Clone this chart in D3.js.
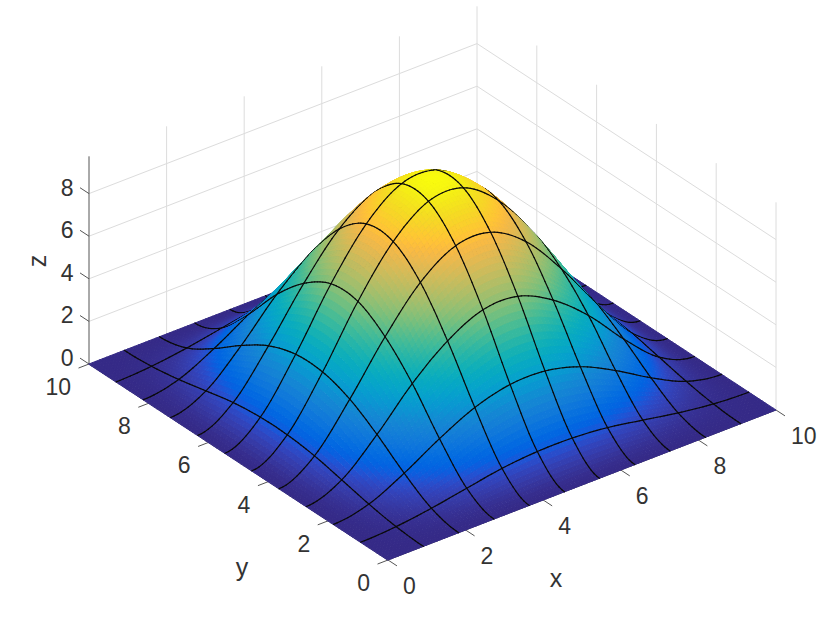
<!DOCTYPE html>
<html>
<head>
<meta charset="utf-8">
<script src="https://d3js.org/d3.v7.min.js"></script>
<style>
  html, body { margin: 0; padding: 0; background: #fff; }
  svg { display: block; }
  text { font-family: "Liberation Sans", Arial, sans-serif; fill: #333; }
</style>
</head>
<body>
<svg width="830" height="626"></svg>
<script>
var xTicks = [0, 2, 4, 6, 8, 10];
var yTicks = [0, 2, 4, 6, 8, 10];
var zTicks = [0, 2, 4, 6, 8];
var zTop = 9.75;

// mesh positions, same for x and y
var meshPos = [0, 0.91, 1.82, 2.73, 3.64, 4.55, 5.45, 6.36, 7.27, 8.18, 9.09, 10];

// heights
var zRows = [
  [0, 0,    0,    0,    0,    0,    0,    0,    0,    0,    0,    0],
  [0, 0.09, 0.31, 0.61, 0.90, 1.05, 1.05, 0.90, 0.61, 0.31, 0.09, 0],
  [0, 0.31, 1.12, 2.10, 2.92, 3.36, 3.36, 2.92, 2.10, 1.12, 0.31, 0],
  [0, 0.61, 2.10, 3.85, 5.21, 6.03, 6.03, 5.21, 3.85, 2.10, 0.61, 0],
  [0, 0.90, 2.92, 5.21, 7.12, 8.20, 8.20, 7.12, 5.21, 2.92, 0.90, 0],
  [0, 1.05, 3.36, 6.03, 8.20, 9.45, 9.45, 8.20, 6.03, 3.36, 1.05, 0],
  [0, 1.05, 3.36, 6.03, 8.20, 9.45, 9.45, 8.20, 6.03, 3.36, 1.05, 0],
  [0, 0.90, 2.92, 5.21, 7.12, 8.20, 8.20, 7.12, 5.21, 2.92, 0.90, 0],
  [0, 0.61, 2.10, 3.85, 5.21, 6.03, 6.03, 5.21, 3.85, 2.10, 0.61, 0],
  [0, 0.31, 1.12, 2.10, 2.92, 3.36, 3.36, 2.92, 2.10, 1.12, 0.31, 0],
  [0, 0.09, 0.31, 0.61, 0.90, 1.05, 1.05, 0.90, 0.61, 0.31, 0.09, 0],
  [0, 0,    0,    0,    0,    0,    0,    0,    0,    0,    0,    0]
];

// parula, 64 levels
var parula = [
  "#352a87","#363093","#3637a0","#353dad","#3243ba","#2c4ac7","#2053d4","#0f5cdd",
  "#0363e1","#0268e1","#046de0","#0871de","#0d75dc","#1079da","#127dd8","#1481d6",
  "#1485d4","#1389d3","#108ed2","#0c93d2","#0998d1","#079ccf","#06a0cd","#06a4ca",
  "#06a7c6","#07a9c2","#0aacbe","#0fafb9","#15b1b4","#1db3af","#25b5a9","#2eb7a4",
  "#38b99e","#42bb98","#4dbc92","#59bd8c","#65be86","#71bf80","#7cbf7b","#87bf77",
  "#92bf73","#9bbf6f","#a5be6b","#aebe67","#b7bd64","#c0bc60","#c8bc5d","#d1bb59",
  "#d9ba56","#e1b952","#e9b94e","#f1b94a","#f8ba44","#fdbe3d","#ffc337","#fec832",
  "#fccd2e","#f9d329","#f7d825","#f5de21","#f5e41d","#f5eb18","#f6f313","#f9fb0e"
];

var svg = d3.select("svg");

// oblique projection of the box, one scale per screen contribution
var xToSx = d3.scaleLinear().domain([0, 10]).range([388, 776]),
    yToSx = d3.scaleLinear().domain([0, 10]).range([0, -299]),
    xToSy = d3.scaleLinear().domain([0, 10]).range([560, 410]),
    yToSy = d3.scaleLinear().domain([0, 10]).range([0, -196]),
    zToSy = d3.scaleLinear().domain([0, 10]).range([0, -213]);

function project(x, y, z) {
  return [xToSx(x) + yToSx(y), xToSy(x) + yToSy(y) + zToSy(z)];
}

var color = d3.scaleLinear()
  .domain(parula.map(function(c, i) { return i * zTop / (parula.length - 1); }))
  .range(parula)
  .clamp(true);
var meshScale = d3.scaleLinear().domain(d3.range(meshPos.length)).range(meshPos);

// smooth shading between the mesh values (flat at the rim)
function at(i, j) {
  var n = meshPos.length - 1;
  i = i < 0 ? -i : (i > n ? 2 * n - i : i);
  j = j < 0 ? -j : (j > n ? 2 * n - j : j);
  return zRows[j][i];
}
function weights(t) {
  return [
    0.5 * (-t + 2 * t * t - t * t * t),
    0.5 * (2 - 5 * t * t + 3 * t * t * t),
    0.5 * (t + 4 * t * t - 3 * t * t * t),
    0.5 * (-t * t + t * t * t)
  ];
}
function height(u, v) {
  var n = meshPos.length - 1;
  var i = Math.min(Math.floor(u), n - 1),
      j = Math.min(Math.floor(v), n - 1);
  var wu = weights(u - i), wv = weights(v - j), z = 0;
  for (var b = 0; b < 4; b++) {
    for (var a = 0; a < 4; a++) {
      z += wu[a] * wv[b] * at(i + a - 1, j + b - 1);
    }
  }
  return Math.max(z, 0);
}
function point(u, v) {
  return project(meshScale(u), meshScale(v), height(u, v));
}

// walls
var wallGrid = svg.append("g")
  .attr("fill", "none")
  .attr("stroke", "#dcdcdc")
  .attr("stroke-width", 1);

function wallLine(a, b) {
  wallGrid.append("line")
    .attr("x1", a[0]).attr("y1", a[1])
    .attr("x2", b[0]).attr("y2", b[1]);
}
zTicks.forEach(function(z) {
  wallLine(project(0, 10, z), project(10, 10, z));
  wallLine(project(10, 10, z), project(10, 0, z));
});
xTicks.slice(1).forEach(function(x) {
  wallLine(project(x, 10, 0), project(x, 10, zTop));
});
yTicks.slice(0, -1).forEach(function(y) {
  wallLine(project(10, y, 0), project(10, y, zTop));
});

// axes
var axes = svg.append("g")
  .attr("fill", "none")
  .attr("stroke", "#555")
  .attr("stroke-width", 1);

function axisLine(a, b) {
  axes.append("line")
    .attr("x1", a[0]).attr("y1", a[1])
    .attr("x2", b[0]).attr("y2", b[1]);
}
axisLine(project(0, 10, 0), project(0, 10, zTop));
axisLine(project(0, 0, 0), project(10, 0, 0));
axisLine(project(0, 0, 0), project(0, 10, 0));

xTicks.forEach(function(x) {
  axisLine(project(x, 0, 0), project(x, -0.3, 0));
});
yTicks.forEach(function(y) {
  axisLine(project(0, y, 0), project(-0.27, y, 0));
});
zTicks.forEach(function(z) {
  axisLine(project(0, 10, z), project(0, 10.3, z));
});

// surface, painted from the back corner to the front
var sub = 10,
    cells = (meshPos.length - 1) * sub,
    items = [];

for (var b = 0; b < cells; b++) {
  for (var a = 0; a < cells; a++) {
    items.push({key: a + b, kind: "cell", a: a, b: b});
  }
}
for (var m = 1; m < meshPos.length - 1; m++) {
  for (var s = 0; s < cells; s++) {
    items.push({key: s + m * sub - 2.5, kind: "lineX", a: s, b: m * sub});
    items.push({key: s + m * sub - 2.5, kind: "lineY", a: m * sub, b: s});
  }
}
items.sort(function(p, q) { return q.key - p.key; });

var surface = svg.append("g").attr("stroke-linecap", "round");

items.forEach(function(d) {
  var u0 = d.a / sub, v0 = d.b / sub, u1 = (d.a + 1) / sub, v1 = (d.b + 1) / sub;
  if (d.kind === "cell") {
    var zm = (height(u0, v0) + height(u1, v0) + height(u0, v1) + height(u1, v1)) / 4;
    var c = color(zm);
    surface.append("path")
      .attr("d", "M" + [point(u0, v0), point(u1, v0), point(u1, v1), point(u0, v1)].join("L") + "Z")
      .attr("fill", c)
      .attr("stroke", c)
      .attr("stroke-width", 1);
  } else {
    var p0 = point(u0, v0),
        p1 = d.kind === "lineX" ? point(u1, v0) : point(u0, v1);
    surface.append("line")
      .attr("x1", p0[0]).attr("y1", p0[1])
      .attr("x2", p1[0]).attr("y2", p1[1])
      .attr("stroke", "#0a0a0a")
      .attr("stroke-width", 1.2);
  }
});

// tick labels
var labels = svg.append("g").attr("font-size", 23);

xTicks.forEach(function(x) {
  var p = project(x, 0, 0);
  labels.append("text").attr("x", p[0] + 15).attr("y", p[1] + 26)
    .attr("dy", "0.35em").attr("text-anchor", "start").text(x);
});
yTicks.forEach(function(y) {
  var p = project(0, y, 0);
  labels.append("text").attr("x", p[0] - 18).attr("y", p[1] + 23)
    .attr("dy", "0.35em").attr("text-anchor", "end").text(y);
});
zTicks.forEach(function(z) {
  var p = project(0, 10, z);
  labels.append("text").attr("x", p[0] - 15.5).attr("y", p[1] - 6)
    .attr("dy", "0.35em").attr("text-anchor", "end").text(z);
});

// axis titles
labels.append("text").attr("x", 556).attr("y", 581).attr("dy", "0.25em")
  .attr("text-anchor", "middle").attr("font-size", 25).text("x");
labels.append("text").attr("x", 242).attr("y", 570).attr("dy", "0.25em")
  .attr("text-anchor", "middle").attr("font-size", 25).text("y");
labels.append("text").attr("text-anchor", "middle").attr("font-size", 25)
  .attr("transform", "translate(46,261) rotate(-90)").text("z");
</script>
</body>
</html>
